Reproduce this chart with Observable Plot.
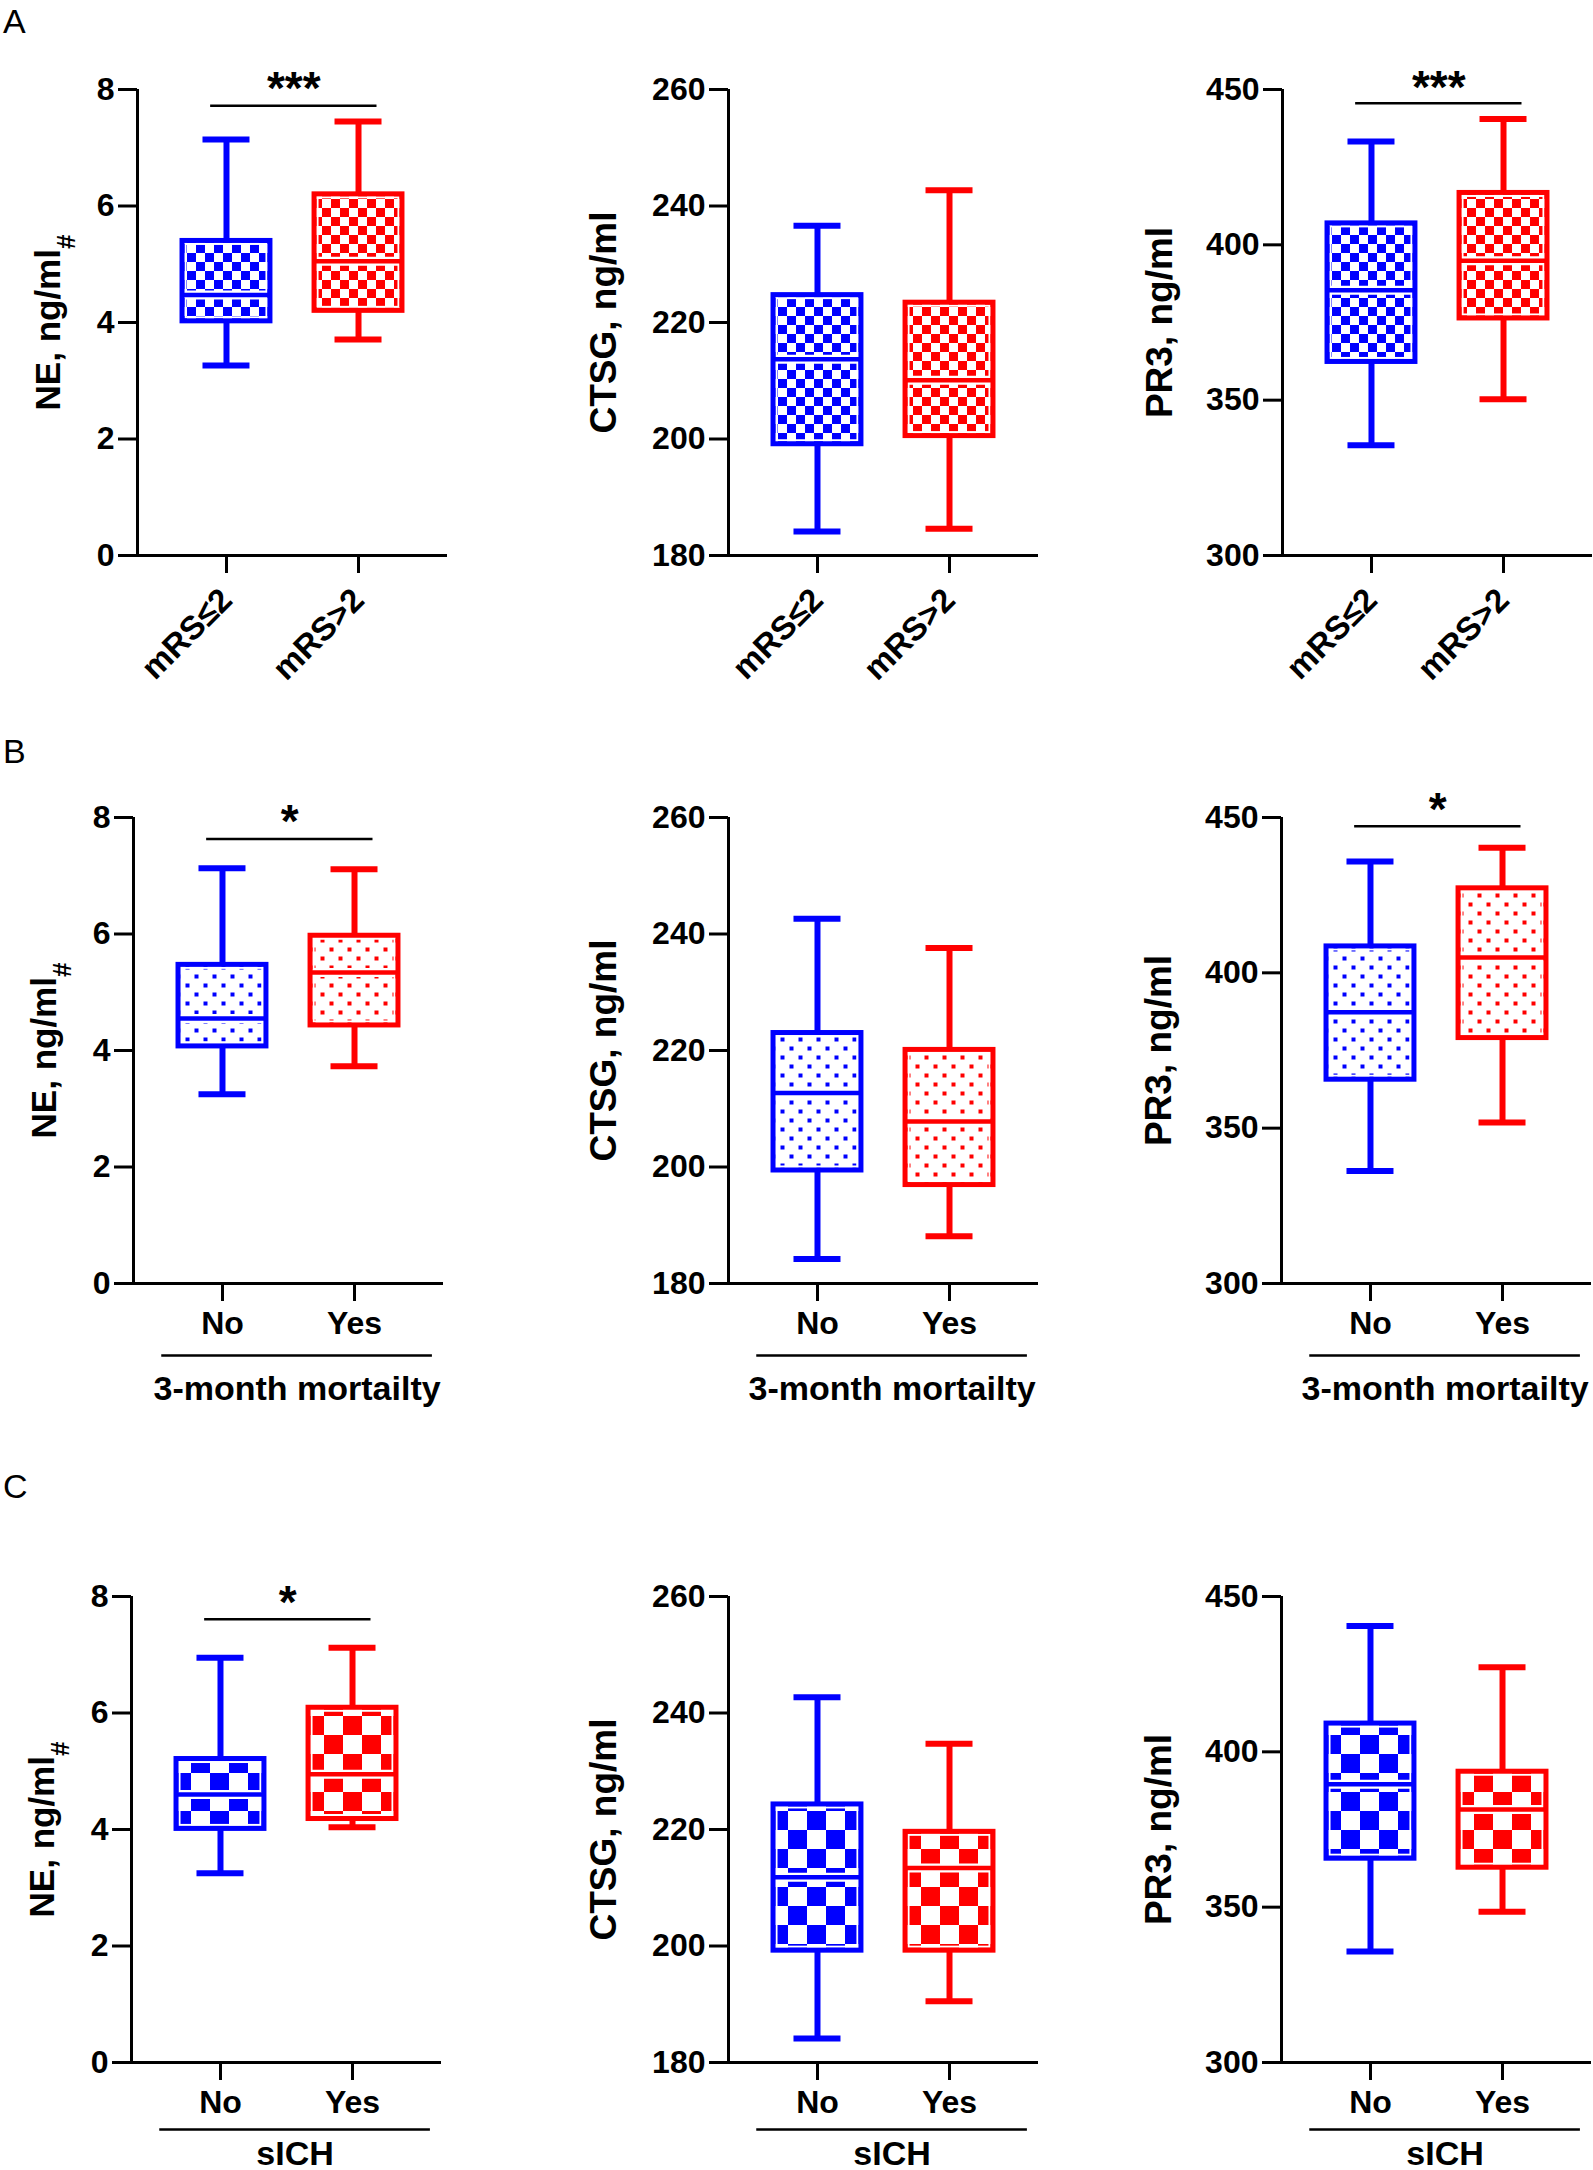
<!DOCTYPE html>
<html>
<head>
<meta charset="utf-8">
<script src="https://cdn.jsdelivr.net/npm/d3@7"></script>
<script src="https://cdn.jsdelivr.net/npm/@observablehq/plot@0.6"></script>
<style>
html, body { margin: 0; padding: 0; background: #fff; }
body { width: 1593px; height: 2170px; position: relative; overflow: hidden; font-family: "Liberation Sans", Arial, sans-serif; }
.panel { position: absolute; }
.rowlab { position: absolute; font-size: 34px; font-weight: normal; line-height: 1; color: #000; }
</style>
</head>
<body>
<svg id="defs" width="0" height="0" style="position:absolute"><defs id="patdefs"></defs></svg>
<script>
// ---------------- data ----------------
const rowNames = ["A", "B", "C"];
const markers = ["NE", "CTSG", "PR3"];
const yLabelMain = ["NE, ng/ml", "CTSG, ng/ml", "PR3, ng/ml"];
const yLabelSub = ["#", "", ""];
const yDomains = [[0, 8], [180, 260], [300, 450]];
const yTicks = [[0, 2, 4, 6, 8], [180, 200, 220, 240, 260], [300, 350, 400, 450]];
const groupsA = ["mRS≤2", "mRS>2"];
const groupsB = ["No", "Yes"];
const groupsC = ["No", "Yes"];
const groupTitles = ["", "3-month mortailty", "sICH"];
const groupColors = ["#0000ff", "#ff0000"];

// five-number summaries [min, q1, median, q3, max] for [group 1, group 2]
const A_NE   = [[3.26, 4.02, 4.47, 5.40, 7.14], [3.71, 4.20, 5.05, 6.20, 7.45]];
const A_CTSG = [[184.1, 199.1, 213.7, 224.7, 236.6], [184.6, 200.5, 210.1, 223.4, 242.7]];
const A_PR3  = [[335.5, 362.3, 385.4, 406.9, 433.3], [350.3, 376.3, 394.9, 416.7, 440.5]];
const B_NE   = [[3.25, 4.07, 4.55, 5.47, 7.13], [3.73, 4.43, 5.34, 5.97, 7.11]];
const B_CTSG = [[184.2, 199.4, 212.7, 223.0, 242.6], [188.1, 196.9, 207.8, 220.1, 237.6]];
const B_PR3  = [[336.2, 365.6, 387.3, 408.5, 435.8], [351.8, 379.0, 404.9, 427.2, 440.3]];
const C_NE   = [[3.25, 4.01, 4.60, 5.21, 6.95], [4.04, 4.18, 4.95, 6.09, 7.12]];
const C_CTSG = [[184.1, 199.2, 211.8, 224.3, 242.7], [190.5, 199.2, 213.4, 219.6, 234.7]];
const C_PR3  = [[335.7, 365.6, 389.6, 409.1, 440.5], [348.5, 362.7, 381.4, 393.6, 427.2]];

// significance annotations (text, bar value, star value) per row, per marker
const sigText  = [["***", "", "***"], ["*", "", "*"], ["*", "", ""]];
const sigBarY  = [[7.72, null, 445.6], [7.63, null, 447.2], [7.61, null, null]];
const sigStarY = [[8.16, null, 453.4], [8.07, null, 455.3], [8.04, null, null]];

// ---------------- layout / style ----------------
const statsTable = [[A_NE, A_CTSG, A_PR3], [B_NE, B_CTSG, B_PR3], [C_NE, C_CTSG, C_PR3]];
const groupTable = [groupsA, groupsB, groupsC];
const axisXpos = [[137, 728, 1282], [133, 728, 1281], [131, 728, 1281]];
const frameTop = [89, 816.5, 1596];
const labelOffset = [89, 124, 122];
const labelSize = [35, 37, 37];
const rowLabTop = [4, 734, 1469];
const ML = 130, MR = 5, MT = 70, FH = 466, MB = 140, FW = 310;
const PAD = 0.674;           // outer padding in category steps
const BOX = 0.333;           // half box width (steps)
const CAP = 0.178;           // half cap width (steps)
const SIG = [-0.12, 1.14];   // significance bar extent (steps)
const GRP = [-0.46, 1.59];   // group underline extent (steps)
const grpLineOff = [0, 72, 67];
const grpTitleOff = [0, 116, 102];
const patternKind = ["checkS", "dots", "checkL"];
const FONT = "'Liberation Sans', Arial, Helvetica, sans-serif";

// ---------------- patterns ----------------
const NS = "http://www.w3.org/2000/svg";
const defs = document.getElementById("patdefs");
function mk(tag, attrs, parent) {
  const e = document.createElementNS(NS, tag);
  for (const k in attrs) e.setAttribute(k, attrs[k]);
  parent.appendChild(e);
  return e;
}
groupColors.forEach((col, i) => {
  let p = mk("pattern", {id: `checkS-${i}`, patternUnits: "userSpaceOnUse", width: 18, height: 18}, defs);
  mk("rect", {width: 18, height: 18, fill: "#fff"}, p);
  mk("rect", {x: 0, y: 0, width: 9, height: 9, fill: col}, p);
  mk("rect", {x: 9, y: 9, width: 9, height: 9, fill: col}, p);
  p = mk("pattern", {id: `dots-${i}`, patternUnits: "userSpaceOnUse", width: 18, height: 18}, defs);
  mk("rect", {width: 18, height: 18, fill: "#fff"}, p);
  mk("rect", {x: 2.5, y: 2.5, width: 4, height: 4, fill: col}, p);
  mk("rect", {x: 11.5, y: 11.5, width: 4, height: 4, fill: col}, p);
  p = mk("pattern", {id: `checkL-${i}`, patternUnits: "userSpaceOnUse", width: 38, height: 38}, defs);
  mk("rect", {width: 38, height: 38, fill: "#fff"}, p);
  mk("rect", {x: 0, y: 0, width: 19, height: 19, fill: col}, p);
  mk("rect", {x: 19, y: 19, width: 19, height: 19, fill: col}, p);
});

// ---------------- row labels ----------------
rowNames.forEach((n, r) => {
  const d = document.createElement("div");
  d.className = "rowlab";
  d.style.left = "3px";
  d.style.top = rowLabTop[r] + "px";
  d.textContent = n;
  document.body.appendChild(d);
});

// ---------------- panels ----------------
for (let r = 0; r < 3; r++) {
  for (let c = 0; c < 3; c++) {
    const groups = groupTable[r];
    const stats = statsTable[r][c];
    const rows = groups.map((g, i) => ({
      i, g, min: stats[i][0], q1: stats[i][1], med: stats[i][2], q3: stats[i][3], max: stats[i][4],
      color: groupColors[i], pat: `url(#${patternKind[r]}-${i})`
    }));
    const yd = yDomains[c];
    const marks = [
      Plot.ruleX(rows, {x: "i", y1: "min", y2: "q1", stroke: "color", strokeWidth: 6}),
      Plot.ruleX(rows, {x: "i", y1: "q3", y2: "max", stroke: "color", strokeWidth: 6}),
      Plot.ruleY(rows, {y: "min", x1: d => d.i - CAP, x2: d => d.i + CAP, stroke: "color", strokeWidth: 6}),
      Plot.ruleY(rows, {y: "max", x1: d => d.i - CAP, x2: d => d.i + CAP, stroke: "color", strokeWidth: 6}),
      Plot.rect(rows, {x1: d => d.i - BOX, x2: d => d.i + BOX, y1: "q1", y2: "q3", fill: "pat"}),
      Plot.rect(rows, {x1: d => d.i - BOX, x2: d => d.i + BOX, y1: "q1", y2: "q3", fill: "none", stroke: "white", strokeWidth: 2, inset: 3.5}),
      Plot.ruleY(rows, {y: "med", x1: d => d.i - BOX, x2: d => d.i + BOX, stroke: "white", strokeWidth: 9, insetLeft: 3, insetRight: 3}),
      Plot.ruleY(rows, {y: "med", x1: d => d.i - BOX, x2: d => d.i + BOX, stroke: "color", strokeWidth: 4.5}),
      Plot.rect(rows, {x1: d => d.i - BOX, x2: d => d.i + BOX, y1: "q1", y2: "q3", fill: "none", stroke: "color", strokeWidth: 5}),
      Plot.ruleX([-PAD], {stroke: "#000", strokeWidth: 3}),
      Plot.ruleY([yd[0]], {stroke: "#000", strokeWidth: 3}),
      Plot.axisY({ticks: yTicks[c], tickSize: 19, tickPadding: 4, strokeWidth: 3, fontSize: 32, fontWeight: "bold", label: null, anchor: "left", fill: "#000"}),
      Plot.axisX({ticks: [0, 1], tickFormat: i => groups[i], tickSize: 18, tickPadding: r === 0 ? 21 : 10,
                  tickRotate: r === 0 ? -45 : 0, strokeWidth: 3, fontSize: r === 0 ? 33 : 32, fontWeight: "bold", label: null, anchor: "bottom", fill: "#000"}),
      Plot.text([yLabelMain[c]], {text: d => d, frameAnchor: "left", textAnchor: "middle", lineAnchor: "middle", dx: -labelOffset[c], rotate: -90,
                                  fontSize: labelSize[c], fontWeight: "bold", fill: "#000"})
    ];
    if (sigText[r][c]) {
      const s = [{t: sigText[r][c], bar: sigBarY[r][c], star: sigStarY[r][c]}];
      marks.push(Plot.ruleY(s, {y: "bar", x1: SIG[0], x2: SIG[1], stroke: "#000", strokeWidth: 2.5}));
      marks.push(Plot.text(s, {x: (SIG[0] + SIG[1]) / 2, y: "star", text: "t", fontSize: 46, fontWeight: "bold", fill: "#000", dy: 9}));
    }
    if (groupTitles[r]) {
      marks.push(Plot.ruleY([yd[0]], {x1: GRP[0], x2: GRP[1], dy: grpLineOff[r], stroke: "#000", strokeWidth: 2.5}));
      marks.push(Plot.text([groupTitles[r]], {text: d => d, x: (GRP[0] + GRP[1]) / 2, frameAnchor: "bottom", textAnchor: "middle", dy: grpTitleOff[r], fontSize: 34, fontWeight: "bold", fill: "#000"}));
    }
    const svg = Plot.plot({
      width: ML + FW + MR, height: MT + FH + MB,
      marginLeft: ML, marginRight: MR, marginTop: MT, marginBottom: MB,
      x: {domain: [-PAD, 1 + PAD]},
      y: {domain: yd},
      color: {type: "identity"},
      style: {fontFamily: FONT, background: "transparent", overflow: "visible", color: "#000"},
      marks
    });
    if (yLabelSub[c]) {
      svg.querySelectorAll("text").forEach(t => {
        if (t.textContent === yLabelMain[c]) {
          const ts = document.createElementNS(NS, "tspan");
          ts.setAttribute("font-size", "26");
          ts.setAttribute("dy", "0.6em");
          ts.textContent = yLabelSub[c];
          t.appendChild(ts);
        }
      });
    }
    const div = document.createElement("div");
    div.className = "panel";
    div.style.left = (axisXpos[r][c] - ML) + "px";
    div.style.top = (frameTop[r] - MT) + "px";
    div.style.width = (ML + FW + MR) + "px";
    div.appendChild(svg);
    document.body.appendChild(div);
  }
}
</script>
</body>
</html>
